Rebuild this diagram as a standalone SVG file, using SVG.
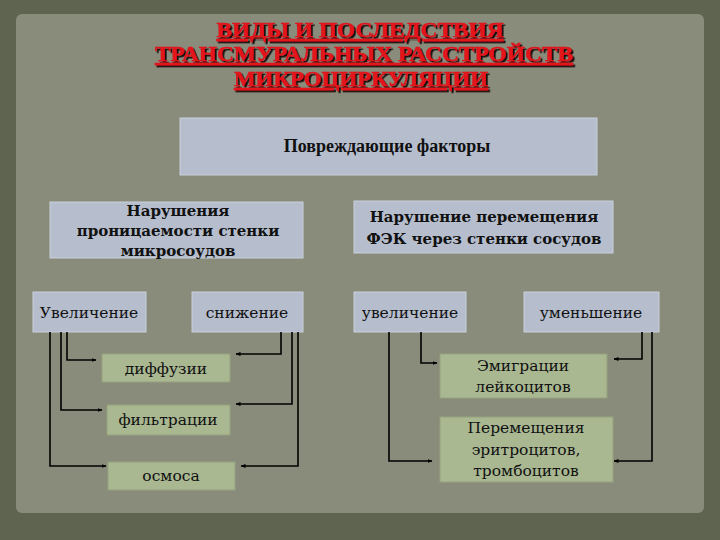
<svg xmlns="http://www.w3.org/2000/svg" width="720" height="540" viewBox="0 0 720 540">
<defs>
<marker id="ah" viewBox="0 0 10 10" refX="9" refY="5" markerWidth="5" markerHeight="5" orient="auto" markerUnits="userSpaceOnUse">
<path d="M0,1 L10,5 L0,9 z" fill="#000"/>
</marker>
<filter id="sh" x="-5%" y="-20%" width="110%" height="150%">
<feDropShadow dx="1.8" dy="1.8" stdDeviation="0.3" flood-color="#120808" flood-opacity="1"/>
</filter>
</defs>
<style>
.title{font-family:"Liberation Serif","Times New Roman",serif;font-weight:bold;font-size:21px;text-decoration:underline;fill:#e3131b;stroke:#e3131b;stroke-width:0.5;text-anchor:middle;}
.blue{fill:#b6bece;stroke:#c9d0dc;stroke-width:1;}
.green{fill:#a9b891;stroke:#96a17f;stroke-width:1;}
.t{font-family:"DejaVu Serif","Liberation Serif",serif;font-size:15.5px;fill:#111;text-anchor:middle;}
.b{font-weight:bold;font-size:15px;}
.tb{font-family:"Liberation Serif","Times New Roman",serif;font-weight:bold;font-size:18px;fill:#111;text-anchor:middle;}
.c{fill:none;stroke:#000;stroke-width:1.6;}
</style>
<rect x="0" y="0" width="720" height="540" fill="#5e6450"/>
<rect x="16" y="14" width="688" height="499" rx="6" fill="#898c7a"/>
<g id="title" filter="url(#sh)">
<text class="title" x="360" y="37" textLength="287" lengthAdjust="spacingAndGlyphs">ВИДЫ И ПОСЛЕДСТВИЯ</text>
<text class="title" x="364" y="61" textLength="418" lengthAdjust="spacingAndGlyphs">ТРАНСМУРАЛЬНЫХ РАССТРОЙСТВ</text>
<text class="title" x="361" y="86" textLength="254" lengthAdjust="spacingAndGlyphs">МИКРОЦИРКУЛЯЦИИ</text>
</g>
<g id="factors">
<rect class="blue" x="180" y="118" width="417" height="57"/>
<text class="tb" x="387" y="152">Повреждающие факторы</text>
</g>
<g id="permeability">
<rect class="blue" x="50" y="202" width="253" height="56"/>
<text class="t b" x="178" y="216">Нарушения</text>
<text class="t b" x="178" y="236">проницаемости стенки</text>
<text class="t b" x="178" y="256">микросоудов</text>
</g>
<g id="fek">
<rect class="blue" x="354" y="201" width="259" height="52"/>
<text class="t b" x="484" y="222">Нарушение перемещения</text>
<text class="t b" x="484" y="244">ФЭК через стенки сосудов</text>
</g>
<g id="increase1">
<rect class="blue" x="33" y="292" width="113" height="40"/>
<text class="t" x="89" y="318">Увеличение</text>
</g>
<g id="decrease1">
<rect class="blue" x="192" y="292" width="111" height="40"/>
<text class="t" x="247" y="318">снижение</text>
</g>
<g id="increase2">
<rect class="blue" x="354" y="292" width="112" height="40"/>
<text class="t" x="410" y="318">увеличение</text>
</g>
<g id="decrease2">
<rect class="blue" x="524" y="292" width="135" height="40"/>
<text class="t" x="591" y="318">уменьшение</text>
</g>
<g id="diffusion">
<rect class="green" x="102" y="354" width="128" height="28"/>
<text class="t" x="166" y="374">диффузии</text>
</g>
<g id="filtration">
<rect class="green" x="107" y="405" width="123" height="30"/>
<text class="t" x="168" y="425">фильтрации</text>
</g>
<g id="osmosis">
<rect class="green" x="108" y="462" width="127" height="28"/>
<text class="t" x="171" y="481">осмоса</text>
</g>
<g id="emigration">
<rect class="green" x="440" y="354" width="167" height="44"/>
<text class="t" x="523" y="371">Эмиграции</text>
<text class="t" x="523" y="392">лейкоцитов</text>
</g>
<g id="movement">
<rect class="green" x="440" y="417" width="173" height="65"/>
<text class="t" x="526" y="433">Перемещения</text>
<text class="t" x="526" y="455">эритроцитов,</text>
<text class="t" x="526" y="476">тромбоцитов</text>
</g>
<g id="connectors">
<path class="c" marker-end="url(#ah)" d="M67,332 V360 H96"/>
<path class="c" marker-end="url(#ah)" d="M61,332 V410 H102"/>
<path class="c" marker-end="url(#ah)" d="M50,332 V466 H106"/>
<path class="c" marker-end="url(#ah)" d="M281,332 V354 H236"/>
<path class="c" marker-end="url(#ah)" d="M292,332 V404 H236"/>
<path class="c" marker-end="url(#ah)" d="M298,332 V466 H241"/>
<path class="c" marker-end="url(#ah)" d="M421,332 V363 H437"/>
<path class="c" marker-end="url(#ah)" d="M389,332 V461 H432"/>
<path class="c" marker-end="url(#ah)" d="M642,332 V359 H614"/>
<path class="c" marker-end="url(#ah)" d="M652,332 V461 H614"/>
</g>
</svg>
